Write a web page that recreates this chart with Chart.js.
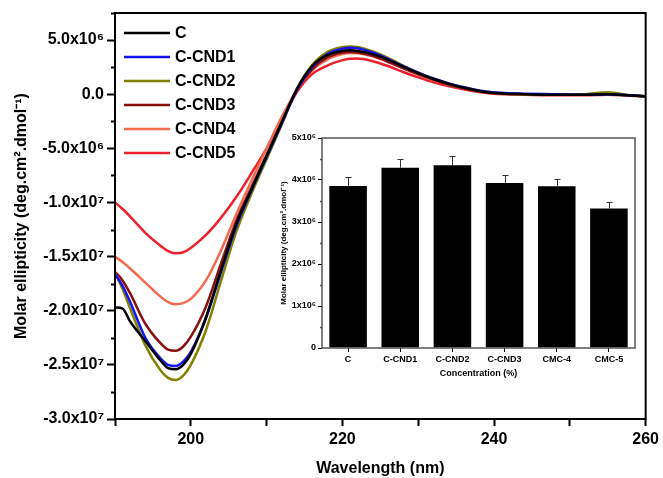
<!DOCTYPE html>
<html>
<head>
<meta charset="utf-8">
<title>CD spectra</title>
<script src="https://cdn.jsdelivr.net/npm/chart.js@4.4.0/dist/chart.umd.min.js"></script>
<style>
    body { margin: 0; background: #fff; }
    #wrap { position: relative; width: 663px; height: 478px; }
    #main { position: absolute; left: 0; top: 0; }
    #inset { position: absolute; left: 260px; top: 125px; }
</style>
</head>
<body>
<div id="wrap">
    <canvas id="main" width="663" height="478"></canvas>
    <canvas id="inset" width="390" height="295"></canvas>
</div>
<script>
// Wavelength (nm) shared by all curves
const WAVELENGTH = [190, 191, 192, 194, 196, 197, 198, 199, 200, 202, 204, 206, 208, 210, 212, 214, 216, 218, 220, 221,
    222, 224, 226, 228, 230, 232, 234, 236, 238, 240, 244, 248, 252, 255, 258, 260];

// Molar ellipticity of each sample
const C_VALUES = [-1.97e7, -1.98e7, -2.10e7, -2.28e7, -2.46e7, -2.53e7, -2.54e7, -2.50e7, -2.40e7, -2.06e7, -1.62e7, -1.20e7,
    -0.88e7, -0.57e7, -0.26e7, 0.05e7, 0.26e7, 0.36e7, 0.40e7, 0.405e7, 0.40e7, 0.37e7, 0.32e7, 0.255e7, 0.195e7, 0.14e7,
    0.095e7, 0.06e7, 0.03e7, 0.012e7, 0, -0.005e7, -0.005e7, 0, -0.012e7, -0.02e7];
const CND1_VALUES = [-1.66e7, -1.77e7, -1.92e7, -2.25e7, -2.44e7, -2.50e7, -2.51e7, -2.47e7, -2.38e7, -2.07e7, -1.64e7, -1.22e7,
    -0.89e7, -0.58e7, -0.27e7, 0.04e7, 0.25e7, 0.37e7, 0.42e7, 0.43e7, 0.425e7, 0.385e7, 0.325e7, 0.26e7, 0.20e7, 0.145e7,
    0.10e7, 0.065e7, 0.035e7, 0.015e7, 0.005e7, 0, -0.005e7, 0, -0.01e7, -0.02e7];
const CND2_VALUES = [-1.65e7, -1.80e7, -1.98e7, -2.32e7, -2.55e7, -2.62e7, -2.64e7, -2.60e7, -2.50e7, -2.18e7, -1.72e7, -1.27e7,
    -0.92e7, -0.60e7, -0.28e7, 0.05e7, 0.27e7, 0.39e7, 0.435e7, 0.44e7, 0.435e7, 0.395e7, 0.335e7, 0.265e7, 0.20e7, 0.145e7,
    0.10e7, 0.065e7, 0.035e7, 0.015e7, 0, -0.005e7, 0, 0.018e7, -0.01e7, -0.02e7];
const CND3_VALUES = [-1.64e7, -1.72e7, -1.84e7, -2.12e7, -2.30e7, -2.36e7, -2.37e7, -2.33e7, -2.24e7, -1.96e7, -1.56e7, -1.17e7,
    -0.86e7, -0.56e7, -0.26e7, 0.04e7, 0.23e7, 0.34e7, 0.385e7, 0.39e7, 0.385e7, 0.355e7, 0.30e7, 0.24e7, 0.185e7, 0.135e7,
    0.09e7, 0.055e7, 0.028e7, 0.01e7, 0, -0.005e7, -0.005e7, 0, -0.01e7, -0.02e7];
const CND4_VALUES = [-1.50e7, -1.55e7, -1.61e7, -1.74e7, -1.87e7, -1.92e7, -1.94e7, -1.93e7, -1.89e7, -1.72e7, -1.44e7, -1.11e7,
    -0.80e7, -0.50e7, -0.21e7, 0.04e7, 0.22e7, 0.32e7, 0.37e7, 0.38e7, 0.378e7, 0.35e7, 0.30e7, 0.24e7, 0.18e7, 0.13e7,
    0.09e7, 0.055e7, 0.028e7, 0.01e7, 0, -0.005e7, -0.005e7, 0, -0.012e7, -0.02e7];
const CND5_VALUES = [-1.00e7, -1.06e7, -1.13e7, -1.28e7, -1.40e7, -1.45e7, -1.47e7, -1.46e7, -1.42e7, -1.30e7, -1.14e7, -0.95e7,
    -0.73e7, -0.50e7, -0.24e7, 0.02e7, 0.185e7, 0.265e7, 0.315e7, 0.328e7, 0.33e7, 0.305e7, 0.26e7, 0.205e7, 0.155e7, 0.11e7,
    0.075e7, 0.045e7, 0.02e7, 0.005e7, -0.005e7, -0.01e7, -0.01e7, -0.005e7, -0.015e7, -0.02e7];

// Inset: peak ellipticity per sample
const SAMPLES = ['C', 'C-CND1', 'C-CND2', 'C-CND3', 'CMC-4', 'CMC-5'];
const PEAK_VALUES = [3.86e6, 4.29e6, 4.35e6, 3.93e6, 3.85e6, 3.32e6];
const PEAK_ERRORS = [0.20e6, 0.21e6, 0.21e6, 0.19e6, 0.18e6, 0.16e6];

const FONT = "'Liberation Sans', Arial, sans-serif";
const SUP = { 6: '\u2076', 7: '\u2077' };
const Y_TITLE = 'Molar ellipticity (deg.cm\u00B2.dmol\u207B\u00B9)';

function points(values) {
    return WAVELENGTH.map((x, i) => ({ x: x, y: values[i] }));
}

function mainYTick(value) {
    if (Math.abs(value % 5e6) > 1) return '';
    if (value === 0) return '0.0';
    const exp = Math.floor(Math.log10(Math.abs(value)) + 1e-9);
    return (value / Math.pow(10, exp)).toFixed(1) + 'x10' + SUP[exp];
}

function insetYTick(value) {
    if (Math.abs(value % 1e6) > 1) return '';
    if (value === 0) return '0';
    return Math.round(value / 1e6) + 'x10' + SUP[6];
}

// frame round the plot area + short minor ticks
const frameAndTicks = {
    id: 'frameAndTicks',
    afterDraw(chart, args, opts) {
        const { ctx, chartArea: a, scales } = chart;
        ctx.save();
        ctx.strokeStyle = opts.color;
        ctx.lineWidth = opts.width;
        ctx.strokeRect(a.left, a.top, a.right - a.left, a.bottom - a.top);
        if (opts.minorStep) {
            const y = scales.y;
            ctx.beginPath();
            for (let v = y.min; v <= y.max + 1; v += opts.minorStep) {
                if (Math.abs(v % opts.majorStep) < 1) continue;
                const py = Math.round(y.getPixelForValue(v)) + 0.5;
                ctx.moveTo(a.left - opts.minorLength, py);
                ctx.lineTo(a.left, py);
            }
            ctx.stroke();
        }
        ctx.restore();
    }
};

const curveLegend = {
    id: 'curveLegend',
    afterDraw(chart, args, opts) {
        if (!opts.show) return;
        const ctx = chart.ctx;
        ctx.save();
        ctx.font = 'bold 16px ' + FONT;
        ctx.textBaseline = 'middle';
        chart.data.datasets.forEach((ds, i) => {
            const y = opts.top + i * opts.step;
            ctx.strokeStyle = ds.borderColor;
            ctx.lineWidth = 2.5;
            ctx.beginPath();
            ctx.moveTo(opts.left, y);
            ctx.lineTo(opts.left + 46, y);
            ctx.stroke();
            ctx.fillStyle = '#000';
            ctx.fillText(ds.label, opts.left + 51, y + 1);
        });
        ctx.restore();
    }
};

const errorBars = {
    id: 'errorBars',
    afterDatasetsDraw(chart) {
        const { ctx, scales } = chart;
        const meta = chart.getDatasetMeta(0);
        ctx.save();
        ctx.strokeStyle = '#333';
        ctx.lineWidth = 1;
        meta.data.forEach((bar, i) => {
            const top = Math.round(scales.y.getPixelForValue(PEAK_VALUES[i] + PEAK_ERRORS[i])) + 0.5;
            const x = Math.round(bar.x) + 0.5;
            ctx.beginPath();
            ctx.moveTo(x, bar.y);
            ctx.lineTo(x, top);
            ctx.moveTo(x - 3, top);
            ctx.lineTo(x + 3, top);
            ctx.stroke();
        });
        ctx.restore();
    }
};

function curve(label, values, color) {
    return {
        label: label,
        data: points(values),
        borderColor: color,
        borderWidth: 2.5,
        pointRadius: 0,
        cubicInterpolationMode: 'monotone',
        fill: false
    };
}

new Chart(document.getElementById('main'), {
    type: 'line',
    data: {
        datasets: [
            curve('C', C_VALUES, '#000000'),
            curve('C-CND1', CND1_VALUES, '#1414f0'),
            curve('C-CND2', CND2_VALUES, '#828200'),
            curve('C-CND3', CND3_VALUES, '#8a1010'),
            curve('C-CND4', CND4_VALUES, '#f26a4f'),
            curve('C-CND5', CND5_VALUES, '#f0202c')
        ]
    },
    options: {
        responsive: false,
        animation: false,
        layout: { padding: { top: 13, right: 14, left: 0, bottom: 0 } },
        plugins: {
            legend: { display: false },
            tooltip: { enabled: false },
            frameAndTicks: { color: '#000', width: 2, minorStep: 2.5e6, majorStep: 5e6, minorLength: 4 },
            curveLegend: { show: true, left: 124, top: 33, step: 24 }
        },
        scales: {
            x: {
                type: 'linear',
                min: 190,
                max: 260,
                border: { display: false },
                grid: { drawOnChartArea: false, tickLength: 7, tickWidth: 2, tickColor: '#000' },
                ticks: {
                    stepSize: 10,
                    autoSkip: false,
                    maxRotation: 0,
                    padding: 4,
                    color: '#000',
                    font: { family: FONT, size: 16, weight: 'bold' },
                    callback: (v) => (v % 20 === 0 && v >= 200 ? String(v) : '')
                },
                title: {
                    display: true,
                    text: 'Wavelength (nm)',
                    color: '#000',
                    font: { family: FONT, size: 16, weight: 'bold' },
                    padding: { top: 0, bottom: 0 }
                },
                afterFit: (s) => { s.height = 59; }
            },
            y: {
                min: -3e7,
                max: 7.5e6,
                border: { display: false },
                grid: {
                    drawOnChartArea: false,
                    tickLength: 8,
                    tickWidth: 2,
                    tickColor: (c) => (Math.abs(c.tick.value % 5e6) < 1 ? '#000' : 'rgba(0,0,0,0)')
                },
                ticks: {
                    stepSize: 2.5e6,
                    autoSkip: false,
                    padding: 3,
                    color: '#000',
                    font: { family: FONT, size: 16, weight: 'bold' },
                    callback: mainYTick
                },
                title: {
                    display: true,
                    text: Y_TITLE,
                    color: '#000',
                    font: { family: FONT, size: 16, weight: 'bold' },
                    padding: { top: 12, bottom: 0 }
                },
                afterFit: (s) => { s.width = 115; }
            }
        }
    },
    plugins: [frameAndTicks, curveLegend]
});

new Chart(document.getElementById('inset'), {
    type: 'bar',
    data: {
        labels: SAMPLES,
        datasets: [{
            data: PEAK_VALUES,
            backgroundColor: '#000',
            borderWidth: 0,
            barPercentage: 0.72,
            categoryPercentage: 1
        }]
    },
    options: {
        responsive: false,
        animation: false,
        layout: { padding: { top: 13, right: 15, left: 0, bottom: 0 } },
        plugins: {
            legend: { display: false },
            tooltip: { enabled: false },
            frameAndTicks: { color: '#555', width: 1.5, minorStep: 0.5e6, majorStep: 1e6, minorLength: 2 }
        },
        scales: {
            x: {
                border: { display: false },
                grid: { drawOnChartArea: false, offset: false, tickLength: 4, tickWidth: 1, tickColor: '#000' },
                ticks: {
                    padding: 2,
                    color: '#000',
                    font: { family: FONT, size: 9, weight: 'bold' }
                },
                title: {
                    display: true,
                    text: 'Concentration (%)',
                    color: '#000',
                    font: { family: FONT, size: 9, weight: 'bold' },
                    padding: { top: 0, bottom: 41 }
                },
                afterFit: (s) => { s.height = 72; }
            },
            y: {
                min: 0,
                max: 5e6,
                border: { display: false },
                grid: {
                    drawOnChartArea: false,
                    tickLength: 4,
                    tickWidth: 1,
                    tickColor: (c) => (Math.abs(c.tick.value % 1e6) < 1 ? '#000' : 'rgba(0,0,0,0)')
                },
                ticks: {
                    stepSize: 0.5e6,
                    autoSkip: false,
                    padding: 2,
                    color: '#000',
                    font: { family: FONT, size: 9, weight: 'bold' },
                    callback: insetYTick
                },
                title: {
                    display: true,
                    text: Y_TITLE,
                    color: '#000',
                    font: { family: FONT, size: 8, weight: 'bold' },
                    padding: { top: 19, bottom: 0 }
                },
                afterFit: (s) => { s.width = 62; }
            }
        }
    },
    plugins: [frameAndTicks, errorBars]
});
</script>
</body>
</html>
